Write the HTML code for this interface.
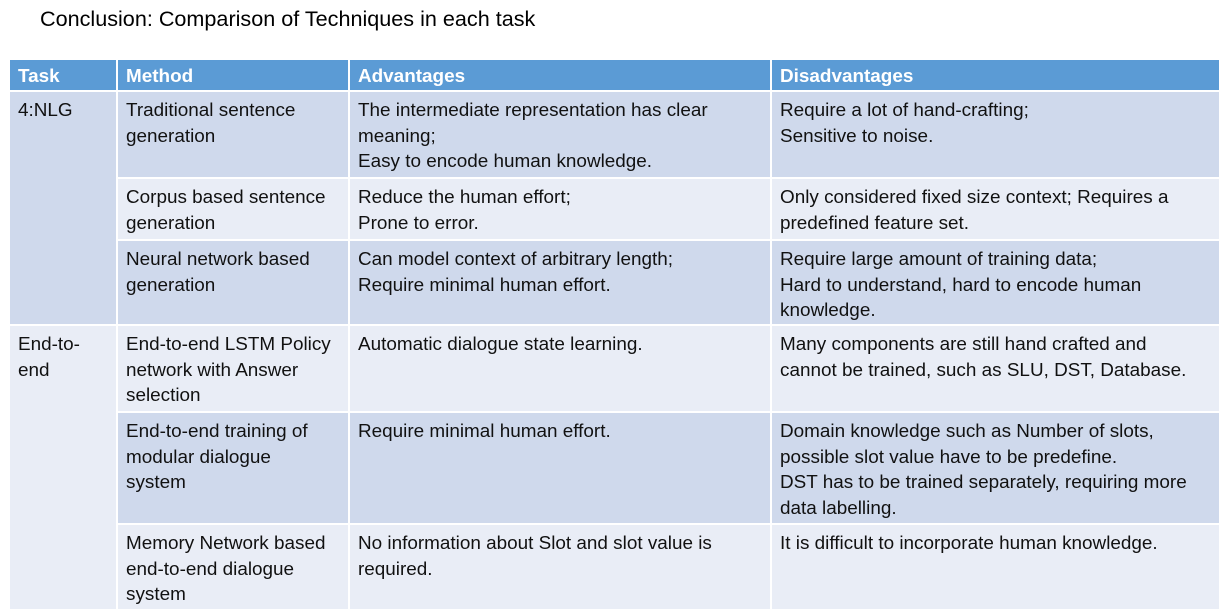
<!DOCTYPE html>
<html><head><style>
body{margin:0;width:1232px;height:609px;background:#fff;font-family:"Liberation Sans",sans-serif;position:relative;overflow:hidden}
.t{position:absolute;left:40px;top:6px;font-size:21.6px;color:#000}
table{position:absolute;left:8px;top:58px;border-collapse:collapse;width:1213px;table-layout:fixed}
td,th{border:2px solid #fff;vertical-align:top;padding:6px 8px 0 8px;font-size:18.9px;line-height:25.6px;color:#111;text-align:left;white-space:nowrap}
th{background:#5b9bd5;color:#fff;font-weight:bold;height:26px;padding-top:4px}
.d{background:#cfd9ec}.l{background:#e9edf6}
</style></head><body>
<div class="t">Conclusion: Comparison of Techniques in each task</div>
<table>
<colgroup><col style="width:108px"><col style="width:232px"><col style="width:422px"><col></colgroup>
<tr><th>Task</th><th>Method</th><th>Advantages</th><th>Disadvantages</th></tr>
<tr style="height:87px"><td class="d" rowspan="3">4:NLG</td><td class="d">Traditional sentence<br>generation</td><td class="d">The intermediate representation has clear<br>meaning;<br>Easy to encode human knowledge.</td><td class="d">Require a lot of hand-crafting;<br>Sensitive to noise.</td></tr>
<tr style="height:62px"><td class="l">Corpus based sentence<br>generation</td><td class="l">Reduce the human effort;<br>Prone to error.</td><td class="l">Only considered fixed size context; Requires a<br>predefined feature set.</td></tr>
<tr style="height:85px"><td class="d">Neural network based<br>generation</td><td class="d">Can model context of arbitrary length;<br>Require minimal human effort.</td><td class="d">Require large amount of training data;<br>Hard to understand, hard to encode human<br>knowledge.</td></tr>
<tr style="height:87px"><td class="l" rowspan="3">End-to-<br>end</td><td class="l">End-to-end LSTM Policy<br>network with Answer<br>selection</td><td class="l">Automatic dialogue state learning.</td><td class="l">Many components are still hand crafted and<br>cannot be trained, such as SLU, DST, Database.</td></tr>
<tr style="height:112px"><td class="d">End-to-end training of<br>modular dialogue<br>system</td><td class="d">Require minimal human effort.</td><td class="d">Domain knowledge such as Number of slots,<br>possible slot value have to be predefine.<br>DST has to be trained separately, requiring more<br>data labelling.</td></tr>
<tr style="height:86px"><td class="l">Memory Network based<br>end-to-end dialogue<br>system</td><td class="l">No information about Slot and slot value is<br>required.</td><td class="l">It is difficult to incorporate human knowledge.</td></tr>
</table>
</body></html>
